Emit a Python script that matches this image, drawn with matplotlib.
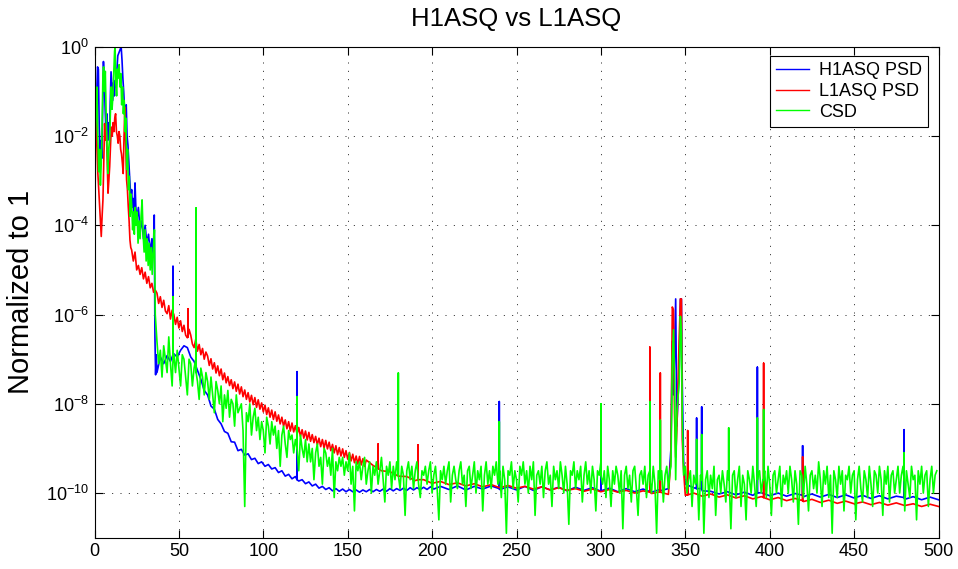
import numpy as np
import matplotlib
matplotlib.use("Agg")
import matplotlib.pyplot as plt
from matplotlib.ticker import FuncFormatter, NullLocator

# ---------------- data (log10 of normalized spectra) ----------------
# low-frequency part (0-36 Hz)
blue_low_f = [0.0, 0.4, 0.8, 1.3, 1.8, 2.3, 2.8, 3.3, 3.8, 4.3, 4.8, 5.3, 5.8, 6.3, 6.8, 7.3, 7.8,
              8.3, 8.8, 9.3, 9.8, 10.3, 10.8, 11.3, 11.8, 12.3, 12.8, 13.3, 13.8, 14.3, 14.8, 15.3,
              15.8, 16.3, 16.8, 17.3, 17.8, 18.3, 18.8, 19.3, 19.8, 20.5, 21.0, 21.5, 22.0, 22.5,
              23.0, 23.5, 24.0, 24.5, 25.0, 26.0, 27.0, 28.0, 29.0, 30.0, 31.0, 32.0, 33.0, 34.0,
              34.8, 35.4, 35.8, 36.2, 36.6]
blue_low_v = [-4.9, -2.2, -1.6, -1.1, -0.45, -0.5, -1.8, -2.3, -2.1, -2.5, -1.5, -0.33, -0.8, -1.4,
              -1.9, -1.5, -2.1, -1.7, -2.0, -1.3, -0.56, -0.9, -1.2, -0.8, -1.1, -0.75, -0.9, -0.5,
              -0.2, -0.15, -0.1, -0.05, 0.0, -0.3, -0.7, -1.0, -1.4, -1.6, -1.3, -2.0, -2.2, -2.7,
              -3.1, -3.4, -3.2, -3.6, -3.4, -3.7, -3.05, -3.6, -3.9, -3.6, -4.1, -3.9, -4.3, -4.0,
              -4.4, -4.2, -4.6, -4.3, -4.7, -3.77, -6.5, -7.35, -6.9]

red_low_f = [0.2, 0.6, 1.0, 1.5, 2.0, 2.5, 3.0, 3.5, 4.0, 4.5, 5.0, 5.5, 6.0, 6.5, 7.0, 7.5, 8.0,
             8.5, 9.0, 9.5, 10.0, 10.5, 11.0, 11.5, 12.0, 12.5, 13.0, 13.5, 14.0, 14.5, 15.0, 15.5,
             16.0, 16.5, 17.0, 17.5, 18.0, 18.5, 19.0, 19.5, 20.0, 20.5, 21.0, 21.5, 22.0, 23.0,
             24.0, 25.0, 26.0, 27.0, 28.0, 29.0, 30.0, 31.0, 32.0, 33.0, 34.0, 35.0, 36.0]
red_low_v = [-3.8, -2.3, -1.49, -2.0, -2.84, -3.2, -3.58, -3.9, -4.25, -3.8, -3.43, -2.6, -1.72,
             -2.09, -1.9, -2.5, -3.28, -3.0, -2.68, -2.2, -1.8, -2.0, -1.7, -1.9, -1.6, -1.5, -1.9,
             -2.0, -2.16, -1.9, -2.0, -2.3, -2.4, -2.6, -2.84, -2.0, -1.35, -2.2, -2.98, -3.2,
             -3.58, -3.9, -4.33, -4.5, -4.55, -4.8, -4.6, -5.0, -4.9, -5.1, -4.95, -5.2, -5.05,
             -5.3, -5.15, -5.4, -5.3, -5.5, -5.45]

green_low_f = [0.2, 0.6, 1.0, 1.4, 1.9, 2.5, 3.0, 3.5, 4.0, 4.5, 5.0, 5.4, 5.9, 6.4, 6.9, 7.4, 7.9,
               8.4, 8.9, 9.4, 9.9, 10.4, 10.9, 11.4, 11.9, 12.2, 12.6, 13.1, 13.6, 14.1, 14.6,
               15.1, 15.6, 16.1, 16.6, 17.1, 17.6, 18.1, 18.6, 19.1, 19.6, 20.1, 20.6, 21.1, 21.6,
               22.1, 22.6, 23.1, 23.6, 24.1, 24.6, 25.2, 25.8, 26.4, 27.0, 27.6, 28.2, 28.8, 29.4,
               30.0, 30.6, 31.2, 31.8, 32.4, 33.0, 33.6, 34.2, 34.8, 35.5, 36.0]
green_low_v = [-2.5, -1.8, -1.2, -0.9, -1.9, -2.8, -2.3, -3.1, -2.6, -1.8, -0.6, -0.45, -1.0, -0.55,
               -1.5, -2.2, -2.84, -2.3, -2.1, -1.5, -0.9, -1.4, -1.1, -0.6, -0.1, 0.0, -0.8, -1.1,
               -0.5, -0.7, -0.4, -0.9, -0.6, -1.3, -0.9, -1.5, -1.2, -1.9, -1.6, -2.75, -2.3, -3.2,
               -2.9, -3.8, -3.3, -3.6, -4.1, -3.7, -4.2, -3.6, -4.0, -3.7, -4.4, -3.9, -4.3, -3.8,
               -3.43, -4.2, -4.6, -4.1, -4.8, -4.3, -4.9, -4.4, -5.0, -4.5, -5.1, -4.6, -4.1, -6.0]

# broadband parts, regularly sampled
blue_mid = [-7.30, -6.95, -7.10, -6.92, -7.05, -6.88, -6.95, -6.80, -6.70, -6.74, -6.95, -7.05,
            -7.25, -7.45, -7.70, -7.80, -8.05, -8.12, -8.35, -8.45, -8.62, -8.66, -8.85, -8.86,
            -9.05, -9.02, -9.15, -9.12, -9.25, -9.22, -9.34, -9.30, -9.40, -9.36, -9.46, -9.43,
            -9.54, -9.50, -9.62, -9.58, -9.68, -9.63, -9.73, -9.70, -9.79, -9.75, -9.84, -9.80,
            -9.89, -9.85, -9.92, -9.88, -9.95, -9.90, -9.96, -9.91, -9.97, -9.92, -9.97, -9.93,
            -9.98, -9.93, -9.97, -9.92, -9.97, -9.92, -9.96, -9.91, -9.96, -9.90, -9.95, -9.90,
            -9.94, -9.89, -9.94, -9.88, -9.93, -9.88, -9.92, -9.87, -9.92, -9.86, -9.91]   # 37..201 Hz
blue_high = [-9.85, -9.92, -9.84, -9.93, -9.85, -9.91, -9.84, -9.92, -9.86, -9.93, -9.85, -9.94,
             -9.86, -9.93, -9.87, -9.95, -9.87, -9.94, -9.88, -9.96, -9.89, -9.97, -9.90, -9.97,
             -9.91, -9.98, -9.92, -9.90, -9.85, -9.80, -9.88, -9.95, -9.96, -10.02, -9.97, -10.04,
             -9.98, -10.05, -9.99, -10.06, -10.00, -10.07, -10.01, -10.08, -10.02, -10.09, -10.03,
             -10.10, -10.04, -10.11, -10.05, -10.12, -10.06, -10.13, -10.07, -10.14, -10.08,
             -10.15, -10.09, -10.15]   # 205..500 Hz

red_mid = [-5.52, -5.75, -5.60, -5.84, -5.68, -5.92, -5.98, -5.80, -6.10, -5.90,
           -6.00, -6.22, -6.06, -6.30, -6.14, -6.38, -6.24, -6.46, -6.52, -6.33,
           -6.46, -6.66, -6.74, -6.55, -6.82, -6.67, -6.90, -6.76, -7.00, -6.84,
           -6.93, -7.14, -6.99, -7.22, -7.08, -7.31, -7.15, -7.37, -7.22, -7.46,
           -7.31, -7.53, -7.39, -7.59, -7.46, -7.66, -7.51, -7.72, -7.56, -7.78,
           -7.62, -7.84, -7.69, -7.90, -7.75, -7.96, -7.81, -8.02, -7.86, -8.08,
           -7.91, -8.12, -7.98, -8.18, -8.03, -8.24, -8.09, -8.30, -8.14, -8.35,
           -8.18, -8.39, -8.25, -8.45, -8.30, -8.50, -8.36, -8.56, -8.40, -8.61,
           -8.43, -8.63, -8.49, -8.68, -8.53, -8.73, -8.58, -8.77, -8.61, -8.81,
           -8.64, -8.84, -8.69, -8.87, -8.73, -8.92, -8.77, -8.96, -8.80, -8.99,
           -8.82, -9.01, -8.86, -9.05, -8.91, -9.10, -8.94, -9.14, -8.98, -9.17,
           -9.01, -9.20, -9.05, -9.24, -9.09, -9.28, -9.13, -9.32, -9.17, -9.35,
           -9.18, -9.37, -9.23, -9.40, -9.26]   # 37..161 Hz
red_high = [-9.38, -9.50, -9.52, -9.62, -9.63, -9.72, -9.70, -9.78, -9.74, -9.81, -9.77, -9.84,
            -9.79, -9.86, -9.81, -9.88, -9.83, -9.89, -9.85, -9.91, -9.86, -9.93, -9.88, -9.94,
            -9.90, -9.96, -9.91, -9.97, -9.92, -9.98, -9.94, -10.00, -9.95, -10.01, -9.97, -10.03,
            -9.99, -10.05, -10.00, -10.07, -10.02, -10.09, -10.04, -10.11, -10.06, -10.13, -10.08,
            -10.15, -10.10, -10.17, -10.12, -10.19, -10.14, -10.21, -10.16, -10.23, -10.18,
            -10.24, -10.20, -10.26, -10.21, -10.27, -10.22, -10.28, -10.24, -10.30, -10.25, -10.30]  # 165..500 Hz

green_band = [  # 37..499 Hz
    -6.6, -7.1, -6.8, -7.4, -6.7, -7.0, -7.3, -6.5, -7.1, -7.6,
    -6.9, -7.3, -6.8, -7.2, -7.6, -6.9, -7.0, -7.4, -7.8, -7.0,
    -7.1, -7.6, -7.2, -7.0, -7.5, -7.9, -7.2, -7.4, -7.8, -7.3,
    -7.5, -7.9, -7.4, -7.8, -8.2, -7.5, -7.7, -8.0, -7.6, -8.4,
    -7.8, -8.1, -7.7, -8.3, -7.9, -8.0, -8.5, -7.8, -8.2, -8.1,
    -8.0, -8.6, -10.3, -8.2, -8.4, -8.0, -8.7, -8.3, -8.1, -8.6,
    -8.3, -8.8, -8.4, -8.6, -9.1, -8.3, -8.5, -8.9, -8.4, -8.7,
    -8.5, -9.0, -8.6, -9.4, -8.7, -8.5, -8.9, -9.2, -8.6, -8.8,
    -8.7, -9.1, -8.8, -9.0, -9.5, -8.7, -9.0, -9.2, -8.8, -9.3,
    -8.9, -9.3, -9.0, -9.7, -9.1, -8.9, -9.4, -9.2, -9.8, -9.0,
    -9.1, -9.4, -9.2, -9.6, -9.0, -10.1, -9.3, -9.5, -9.2, -9.4,
    -9.2, -9.6, -9.3, -9.5, -9.1, -9.8, -9.4, -10.4, -9.3, -9.5,
    -9.3, -9.7, -9.4, -9.2, -9.8, -9.5, -9.3, -10.0, -9.4, -9.6,
    -9.3, -9.8, -9.5, -9.2, -9.7, -10.2, -9.4, -9.6, -9.3, -9.9,
    -9.4, -9.7, -9.3, -9.6, -9.9, -9.4, -9.6, -10.5, -9.5, -9.3,
    -9.7, -9.4, -9.9, -9.5, -9.3, -9.8, -10.1, -9.5, -9.6, -9.4,
    -9.8, -9.5, -9.3, -10.0, -9.6, -9.4, -9.9, -10.6, -9.5, -9.7,
    -9.4, -9.8, -9.5, -9.3, -10.2, -9.6, -9.4, -9.7, -9.9, -9.5,
    -9.3, -9.8, -9.6, -10.3, -9.5, -9.4, -9.9, -9.6, -9.3, -10.0,
    -9.5, -9.7, -9.4, -10.4, -9.6, -9.3, -9.8, -9.5, -9.9, -9.4,
    -9.6, -9.3, -9.8, -9.5, -10.1, -9.4, -9.7, -10.9, -9.5, -9.6,
    -9.3, -9.9, -9.5, -9.7, -10.2, -9.4, -9.6, -9.3, -9.8, -9.5,
    -10.0, -9.4, -9.7, -9.3, -10.5, -9.6, -9.5, -9.8, -9.4, -10.1,
    -9.5, -9.3, -9.8, -9.6, -10.3, -9.4, -9.7, -9.5, -9.9, -9.3,
    -9.6, -10.0, -9.4, -9.8, -10.7, -9.5, -9.6, -9.3, -9.9, -9.5,
    -9.7, -9.4, -10.2, -9.6, -9.3, -9.8, -9.5, -10.0, -9.4, -9.7,
    -10.4, -9.5, -9.6, -9.3, -9.8, -9.5, -10.1, -9.4, -9.7, -10.3,
    -9.5, -9.8, -9.4, -9.6, -10.0, -9.5, -10.8, -9.6, -9.4, -9.9,
    -9.6, -10.2, -9.5, -9.4, -9.9, -10.5, -9.6, -9.5, -9.8, -9.4,
    -10.1, -9.6, -9.5, -10.0, -9.4, -9.8, -10.9, -9.5, -9.7, -9.5,
    -10.2, -9.6, -9.4, -9.9, -9.5, -9.7, -9.5, -10.0, -9.6, -9.8,
    -9.5, -10.4, -9.6, -9.4, -10.0, -9.7, -9.5, -10.3, -9.6, -9.8,
    -9.5, -10.6, -9.6, -9.4, -10.9, -9.7, -9.5, -10.1, -9.6, -9.9,
    -9.4, -10.5, -9.7, -9.6, -10.0, -9.5, -9.8, -10.2, -9.5, -9.7,
    -10.8, -9.6, -9.5, -10.1, -9.7, -9.4, -10.3, -9.6, -9.8, -10.6,
    -9.5, -9.7, -10.0, -9.4, -9.8, -10.3, -9.6, -9.5, -10.0, -9.7,
    -9.5, -10.1, -9.4, -9.8, -10.5, -9.6, -9.5, -10.0, -9.7, -9.4,
    -10.3, -9.6, -9.8, -9.5, -10.0, -9.4, -9.7, -10.2, -9.5, -9.8,
    -10.7, -9.5, -9.6, -10.1, -9.4, -9.8, -10.4, -9.6, -9.5, -9.9,
    -9.6, -10.0, -9.3, -9.7, -10.3, -9.5, -9.8, -9.4, -10.1, -9.6,
    -10.9, -9.5, -9.7, -10.1, -9.4, -9.8, -9.5, -10.4, -9.6, -9.7,
    -9.4, -10.0, -9.6, -9.5, -10.6, -9.7, -9.4, -9.9, -10.2, -9.5,
    -9.7, -10.1, -9.4, -9.8, -10.3, -9.5, -9.6, -10.0, -9.4, -9.7,
    -10.5, -9.5, -9.8, -9.4, -10.2, -9.6, -9.5, -10.0, -9.7, -9.4,
    -10.0, -9.6, -9.4, -10.4, -9.5, -9.8, -10.1, -9.4, -9.7, -9.6,
    -10.6, -9.5, -9.8, -9.4, -10.0, -9.6, -9.5, -10.3, -9.7, -9.4,
    -10.0, -9.6, -9.5]

# narrow spectral lines: frequency, top and foot
blue_spk_f = [46.5, 120.0, 239.8, 300.0, 335.0, 356.7, 359.7, 392.7, 419.5, 479.6]
blue_spk_top = [-4.92, -7.28, -7.95, -8.88, -7.91, -8.32, -8.07, -7.18, -8.94, -8.58]
blue_spk_foot = [-6.9, -9.7, -9.9, -9.95, -9.95, -9.9, -9.9, -10.0, -10.05, -10.1]
red_spk_f = [55.4, 168.0, 191.6, 329.0, 335.2, 351.4, 396.4, 419.5]
red_spk_top = [-5.87, -8.9, -8.92, -6.73, -7.31, -8.6, -7.09, -9.19]
red_spk_foot = [-6.5, -9.45, -9.7, -9.98, -9.98, -10.04, -10.1, -10.17]
green_spk_f = [46.5, 60.2, 120.0, 180.0, 239.8, 300.0, 329.0, 335.2, 356.7, 359.7, 375.7,
               392.7, 396.4, 479.6]
green_spk_top = [-5.6, -3.61, -7.84, -7.31, -8.4, -8.0, -7.95, -8.37, -8.8, -8.69, -8.54,
                 -8.32, -8.13, -9.1]
green_spk_foot = [-7.0, -7.3, -9.0, -9.6, -9.6, -9.6, -9.7, -9.7, -9.7, -9.7, -9.7, -9.7,
                  -9.7, -9.7]

# 342-349 Hz line cluster
cluster_f = [341.5, 342.3, 343.0, 343.6, 344.3, 345.0, 346.4, 347.1, 347.7, 348.2, 349.0]
blue_cluster = [-9.0, -6.6, -7.8, -7.0, -5.65, -8.5, -7.2, -5.65, -5.65, -7.5, -9.3]
red_cluster = [-9.2, -5.83, -5.9, -8.2, -9.2, -8.6, -6.5, -5.65, -5.65, -8.8, -9.5]
green_cluster = [-9.4, -7.0, -6.34, -7.5, -9.7, -8.2, -7.5, -6.04, -6.4, -8.3, -9.6]

xticks = [0, 50, 100, 150, 200, 250, 300, 350, 400, 450, 500]
yticks_exp = [-10, -8, -6, -4, -2, 0]


def build(low_f, low_v, grids, spk_f, spk_top, spk_foot, cl_f, cl_v):
    fs = [np.asarray(low_f, float)]
    vs = [np.asarray(low_v, float)]
    lo, hi = min(cl_f), max(cl_f)
    for (a, b, vals) in grids:
        f = np.linspace(a, b, len(vals))
        v = np.asarray(vals, float)
        keep = (f < lo) | (f > hi)
        fs.append(f[keep])
        vs.append(v[keep])
    fs.append(np.asarray(cl_f, float))
    vs.append(np.asarray(cl_v, float))
    for f0, top, foot in zip(spk_f, spk_top, spk_foot):
        fs.append(np.array([f0, f0, f0]))
        vs.append(np.array([foot, top, foot]))
    f = np.concatenate(fs)
    v = np.concatenate(vs)
    o = np.argsort(f, kind="stable")
    return f[o], 10.0 ** v[o]


bf, bv = build(blue_low_f, blue_low_v, [(37, 201, blue_mid), (205, 500, blue_high)],
               blue_spk_f, blue_spk_top, blue_spk_foot, cluster_f, blue_cluster)
rf, rv = build(red_low_f, red_low_v, [(37, 161, red_mid), (165, 500, red_high)],
               red_spk_f, red_spk_top, red_spk_foot, cluster_f, red_cluster)
gf, gv = build(green_low_f, green_low_v, [(37, 499, green_band)],
               green_spk_f, green_spk_top, green_spk_foot, cluster_f, green_cluster)

# ---------------- plotting ----------------
plt.rcParams["font.family"] = ["Liberation Sans", "DejaVu Sans"]
plt.rcParams["mathtext.fontset"] = "custom"
plt.rcParams["mathtext.rm"] = "Liberation Sans"
plt.rcParams["mathtext.it"] = "Liberation Sans"
plt.rcParams["mathtext.default"] = "regular"

fig = plt.figure(figsize=(9.58, 5.69), dpi=100)
ax = fig.add_axes([94.5 / 958, 1 - 537.7 / 569, 844 / 958, 490.9 / 569])

ax.semilogy(bf, bv, color=(0, 0, 1), lw=1.2, label="H1ASQ PSD")
ax.semilogy(rf, rv, color=(1, 0, 0), lw=1.2, label="L1ASQ PSD")
ax.semilogy(gf, gv, color=(0, 1, 0), lw=1.2, label="CSD")

ax.set_xlim(0, 500)
ax.set_ylim(1e-11, 1e0)
ax.set_xticks(xticks)
ax.set_yticks([10.0 ** e for e in yticks_exp])
ax.yaxis.set_minor_locator(NullLocator())
ax.yaxis.set_major_formatter(FuncFormatter(lambda y, p: r"$10^{%d}$" % int(round(np.log10(y)))))

ax.tick_params(which="both", direction="in", top=True, right=True, length=6, width=0.8,
               labelsize=13, pad=4)
for s in ax.spines.values():
    s.set_linewidth(0.8)

ax.grid(True, which="major", color="k", linestyle=(0, (1.2, 8.8)), linewidth=0.6)

ax.set_title("H1ASQ vs L1ASQ", fontsize=18.5, pad=15)
ax.set_ylabel("Normalized to 1", fontsize=21, labelpad=8)

leg = ax.legend(loc="upper right", bbox_to_anchor=(0.9876, 0.9813), borderaxespad=0,
                fontsize=13, fancybox=False, framealpha=1, edgecolor="k",
                handlelength=1.8, handletextpad=0.55, labelspacing=0.2, borderpad=0.35)
leg.get_frame().set_linewidth(0.8)
for h in leg.get_lines():
    h.set_linewidth(1.0)

fig.savefig("out.png", dpi=100)
